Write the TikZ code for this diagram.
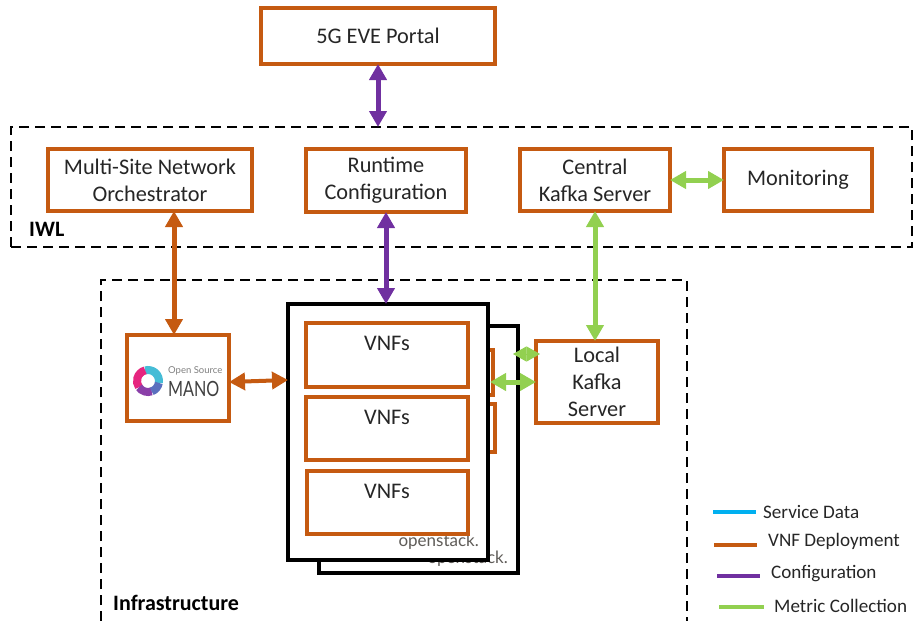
\documentclass[tikz,border=0pt]{standalone}
\usepackage{fontspec}
\setmainfont{Carlito}
\newfontfamily\logofont{Lato}
\usetikzlibrary{arrows.meta}
\definecolor{cOrange}{HTML}{C55A11}
\definecolor{cPurple}{HTML}{7030A0}
\definecolor{cGreen}{HTML}{92D050}
\definecolor{cBlue}{HTML}{00B0F0}
\definecolor{cText}{HTML}{262626}
\definecolor{cStack}{HTML}{5F5C58}
\tikzset{
  x=1pt,y=-1pt,
  box/.style={draw=cOrange,line width=3.6pt,fill=white,inner sep=0pt,outer sep=0pt,align=center,text=cText,font=\fontsize{22.3}{27}\selectfont},
  cloud/.style={draw=black,line width=3.8pt,fill=white,inner sep=0pt,outer sep=0pt},
  zone/.style={draw=black,line width=2.7pt,dash pattern=on 10pt off 6pt},
  link/.style={line width=5pt,{Triangle[length=16pt,width=17pt]}-{Triangle[length=16pt,width=17pt]}},
  gem/.style={line width=1pt,{Triangle[length=13.5pt,width=15pt]}-{Triangle[length=13.5pt,width=15pt]}},
  plain/.style={inner sep=0pt,text=cText,font=\fontsize{22.3}{24}\selectfont},
  zonelabel/.style={inner sep=0pt,anchor=west,text=black,font=\bfseries\fontsize{22}{24}\selectfont},
  legendtext/.style={inner sep=0pt,anchor=west,text=cText,font=\fontsize{19.1}{20}\selectfont},
  legendline/.style={line width=3.2pt},
  stack/.style={inner sep=0pt,text=cStack,font=\logofont\fontsize{17}{20}\selectfont},
}
\newcommand{\rbox}[7]{\node[#1,minimum width=#4pt-#2pt,minimum height=#5pt-#3pt,anchor=north west] (#6) at (#2,#3) {#7};}
\begin{document}
\begin{tikzpicture}
\useasboundingbox (0,0) rectangle (913,621);
% zones
\node[zone,inner sep=0pt,outer sep=0pt,minimum width=901pt,minimum height=120pt,anchor=north west] (iwl) at (11,127) {};
\node[zonelabel] (iwllabel) at (29,229) {IWL};
\coordinate (ia) at (101,621);
\coordinate (ib) at (101,280);
\coordinate (ic) at (687,280);
\coordinate (id) at (687,621);
\draw[zone] (ia) -- (ib) -- (ic) -- (id);
\node[zonelabel] (inflabel) at (113,603) {Infrastructure};
% top boxes
\rbox{box}{261}{8}{495}{64}{portal}{5G EVE Portal}
\rbox{box}{48}{149}{252}{211}{msno}{Multi-Site Network\\Orchestrator}
\rbox{box}{306}{149}{466}{212}{runtime}{Runtime\\Configuration}
\rbox{box}{520}{149}{670}{211}{central}{Central\\Kafka Server}
\rbox{box}{724}{149}{872}{211}{monitoring}{Monitoring}
% back cloud
\rbox{cloud}{319}{326}{518}{573}{backcloud}{}
\node[stack,anchor=east] (stackb) at (508,559) {openstack.};
\rbox{box}{440}{350}{493}{395}{backa}{}
\rbox{box}{440}{404}{495}{452}{backb}{}
% front cloud
\rbox{cloud}{288}{304}{488}{560}{frontcloud}{}
\node[stack,anchor=east] (stackf) at (479,542) {openstack.};
\rbox{box}{306}{323}{468}{387}{vnfa}{}
\rbox{box}{306}{397}{468}{460}{vnfb}{}
\rbox{box}{307}{471}{468}{534}{vnfc}{}
\node[plain] (vnfat) at (387,343) {VNFs};
\node[plain] (vnfbt) at (387,417) {VNFs};
\node[plain] (vnfct) at (387,491) {VNFs};
% MANO
\rbox{box}{127}{335}{229}{421}{mano}{}
\foreach \a/\b/\c in {-10/105/45BCD6,105/215/E6257F,215/290/8A3FA8,290/350/5A6FBE}{
  \definecolor{tmp}{HTML}{\c}
  \draw[tmp,line width=8pt] ({148+11*cos(\a)},{381-11*sin(\a)}) arc[start angle=\a,end angle=\b,x radius=11,y radius=-11];
}
\node[inner sep=0pt,anchor=west,text=black!50,font=\logofont\fontsize{9.5}{10}\selectfont] (manoa) at (168,371) {Open Source};
\node[inner sep=0pt,anchor=west,text=black!75,xscale=.77,font=\logofont\fontsize{21}{22}\selectfont,transform shape=false] (manob) at (168,389) {MANO};
% local kafka
\rbox{box}{536}{341}{658}{423}{local}{Local\\Kafka\\Server}
% connectors
\draw[link,cPurple] (portal.south) -- (portal.south |- iwl.north);
\draw[link,cOrange] ([xshift=24pt]msno.south) -- ([xshift=-4pt]mano.north);
\draw[link,cPurple] (runtime.south) -- (runtime.south |- frontcloud.north);
\draw[link,cGreen] ([xshift=0pt]central.south) -- ([xshift=-2pt]local.north);
\draw[link,cGreen] (central.east) -- (monitoring.west);
\draw[link,cOrange,line width=4pt] ([yshift=-4pt]mano.east) -- ([yshift=52pt]frontcloud.west);
\coordinate (da) at (513,354);
\coordinate (dc) at (540,354);
\draw[gem,cGreen] (da) -- (dc);
\coordinate (db) at (490,382);
\draw[link,cGreen] (db) -- (db -| local.west);
% legend
\coordinate (la) at (713,512); \coordinate (lb) at (756,512);
\draw[legendline,cBlue] (la) -- (lb);
\node[legendtext] (lta) at (763,512) {Service Data};
\coordinate (lc) at (714,545); \coordinate (ld) at (757,545);
\draw[legendline,cOrange] (lc) -- (ld);
\node[legendtext] (ltb) at (768,541) {VNF Deployment};
\coordinate (le) at (717,576); \coordinate (lf) at (760,576);
\draw[legendline,cPurple] (le) -- (lf);
\node[legendtext] (ltc) at (771,574) {Configuration};
\coordinate (lg) at (719,607); \coordinate (lh) at (764,607);
\draw[legendline,cGreen] (lg) -- (lh);
\node[legendtext] (ltd) at (774,606) {Metric Collection};
\end{tikzpicture}
\end{document}
